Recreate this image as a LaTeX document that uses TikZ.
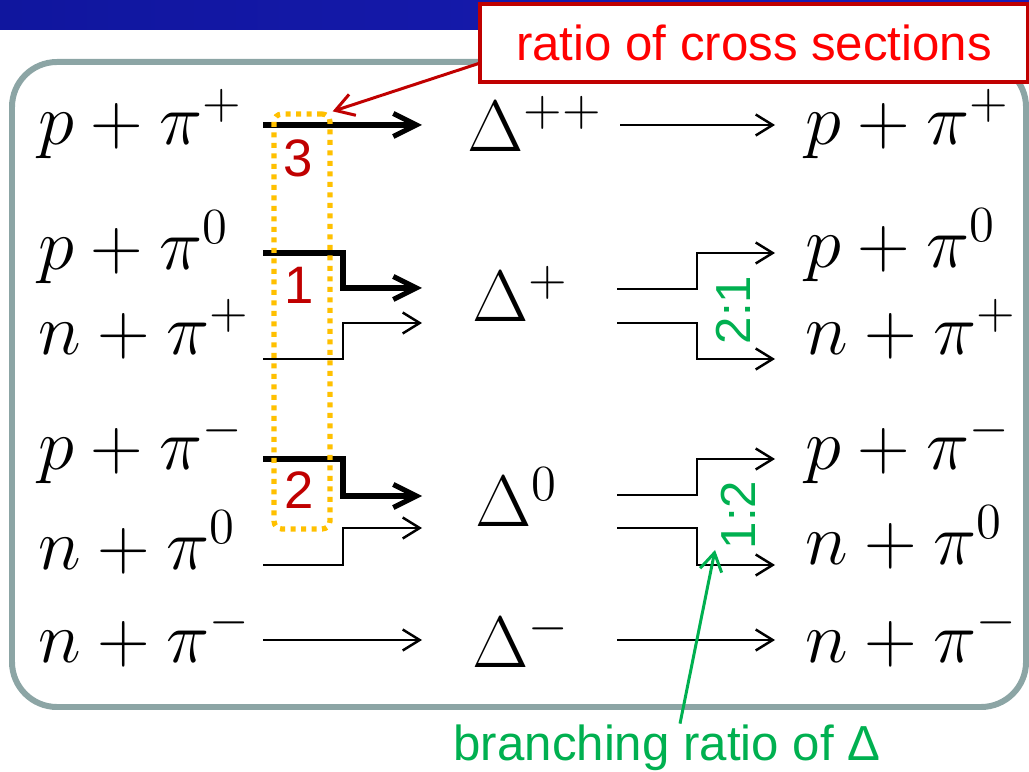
\documentclass[tikz,border=0pt]{standalone}
\usepackage{amsmath}
\usepackage{fontspec}
\usetikzlibrary{arrows.meta,positioning}
\newfontfamily\arialfont{Liberation Sans}
\definecolor{barblue}{RGB}{16,22,158}
\definecolor{barblueR}{RGB}{26,28,182}
\definecolor{framegray}{RGB}{140,165,165}
\definecolor{darkred}{RGB}{192,0,0}
\definecolor{brgreen}{RGB}{0,176,80}
\definecolor{dotorange}{RGB}{255,192,0}
\tikzset{reac/.style={anchor=base west,inner sep=0pt,font=\fontsize{20}{24}\selectfont},
  thk/.style={line width=1.45pt,-{Straight Barb[length=2.3mm,width=2.3mm]}},
  thn/.style={line width=0.7pt,-{Straight Barb[length=1.7mm,width=2.1mm]}},
  note/.style={inner sep=0pt,font=\arialfont\fontsize{14}{16}\selectfont},
  pointer/.style={line width=0.85pt,-{Straight Barb[length=1.8mm,width=2.2mm]}}}

\begin{document}
\begin{tikzpicture}
\useasboundingbox (0,0) rectangle (10.29,-7.72);
% slide bar and frame
\shade[left color=barblue,right color=barblueR] (0,0) rectangle (10.29,-0.30);
\draw[framegray,line width=1.7pt,rounded corners=0.45cm] (0.12,-0.62) rectangle (10.26,-7.07);
% initial states
\node[reac] (l1) at (0.38,-1.45) {$p+\pi^+$};
\node[reac] (l2) at (0.38,-2.70) {$p+\pi^0$};
\node[reac] (l3) at (0.38,-3.55) {$n+\pi^+$};
\node[reac] (l4) at (0.38,-4.70) {$p+\pi^-$};
\node[reac] (l5) at (0.38,-5.70) {$n+\pi^0$};
\node[reac] (l6) at (0.38,-6.62) {$n+\pi^-$};
% resonances
\node[reac] (d1) at (4.67,-1.52) {$\Delta^{++}$};
\node[reac] (d2) at (4.72,-3.22) {$\Delta^{+}$};
\node[reac] (d3) at (4.75,-5.27) {$\Delta^{0}$};
\node[reac] (d4) at (4.72,-6.68) {$\Delta^{-}$};
% final states
\node[reac] (r1) at (8.05,-1.45) {$p+\pi^+$};
\node[reac] (r2) at (8.05,-2.68) {$p+\pi^0$};
\node[reac] (r3) at (8.05,-3.55) {$n+\pi^+$};
\node[reac] (r4) at (8.05,-4.70) {$p+\pi^-$};
\node[reac] (r5) at (8.05,-5.65) {$n+\pi^0$};
\node[reac] (r6) at (8.05,-6.62) {$n+\pi^-$};
% arrow ends
\coordinate (a1) at (2.63,-1.25); \coordinate (b1) at (4.22,-1.25);
\coordinate (a2) at (2.63,-2.53); \coordinate (b2) at (4.22,-2.88);
\coordinate (a3) at (2.63,-3.59); \coordinate (b3) at (4.22,-3.23);
\coordinate (a4) at (2.63,-4.59); \coordinate (b4) at (4.22,-4.96);
\coordinate (a5) at (2.63,-5.65); \coordinate (b5) at (4.22,-5.28);
\coordinate (a6) at (2.63,-6.40); \coordinate (b6) at (4.22,-6.40);
\coordinate (c1) at (6.20,-1.25); \coordinate (e1) at (7.75,-1.25);
\coordinate (c2) at (6.17,-2.89); \coordinate (e2) at (7.75,-2.53);
\coordinate (c3) at (6.17,-3.23); \coordinate (e3) at (7.75,-3.59);
\coordinate (c4) at (6.17,-4.95); \coordinate (e4) at (7.75,-4.59);
\coordinate (c5) at (6.17,-5.28); \coordinate (e5) at (7.75,-5.65);
\coordinate (c6) at (6.17,-6.40); \coordinate (e6) at (7.75,-6.40);
% formation
\draw[thk] (a1) -- (b1);
\draw[thk] (a2) -- ++(0.80,0) |- (b2);
\draw[thn] (a3) -- ++(0.80,0) |- (b3);
\draw[thk] (a4) -- ++(0.80,0) |- (b4);
\draw[thn] (a5) -- ++(0.80,0) |- (b5);
\draw[thn] (a6) -- (b6);
% decay
\draw[thn] (c1) -- (e1);
\draw[thn] (c2) -- ++(0.80,0) |- (e2);
\draw[thn] (c3) -- ++(0.80,0) |- (e3);
\draw[thn] (c4) -- ++(0.80,0) |- (e4);
\draw[thn] (c5) -- ++(0.80,0) |- (e5);
\draw[thn] (c6) -- (e6);
% cross section ratios
\node[note,text=darkred,font=\arialfont\fontsize{15}{17}\selectfont] (n3) at (2.98,-1.58) {3};
\node[note,text=darkred,font=\arialfont\fontsize{15}{17}\selectfont] (n1) at (2.99,-2.85) {1};
\node[note,text=darkred,font=\arialfont\fontsize{15}{17}\selectfont] (n2) at (2.99,-4.90) {2};
\node[draw=dotorange,line width=1.5pt,dash pattern=on 0.05cm off 0.055cm,rounded corners=0.08cm,
  minimum width=0.56cm,minimum height=4.15cm,inner sep=0pt] (ratios) at (3.02,-3.215) {};
\node[note,text=brgreen,rotate=90] (br1) at (7.33,-3.10) {2:1};
\node[note,text=brgreen,rotate=90] (br2) at (7.38,-5.15) {1:2};
% callouts
\node[note,draw=darkred,fill=white,line width=0.9pt,text=red,minimum width=5.48cm,minimum height=0.78cm]
  (xsec) at (7.54,-0.43) {ratio of cross sections};
\draw[pointer,darkred] ([yshift=0.2cm]xsec.south west) -- (ratios.north east);
\node[note,text=brgreen,anchor=base] (branch) at (6.67,-7.60) {branching ratio of Δ};
\coordinate (tip) at (7.15,-5.50);
\draw[pointer,brgreen] ([xshift=0.13cm]branch.north) -- (tip);
\end{tikzpicture}
\end{document}
